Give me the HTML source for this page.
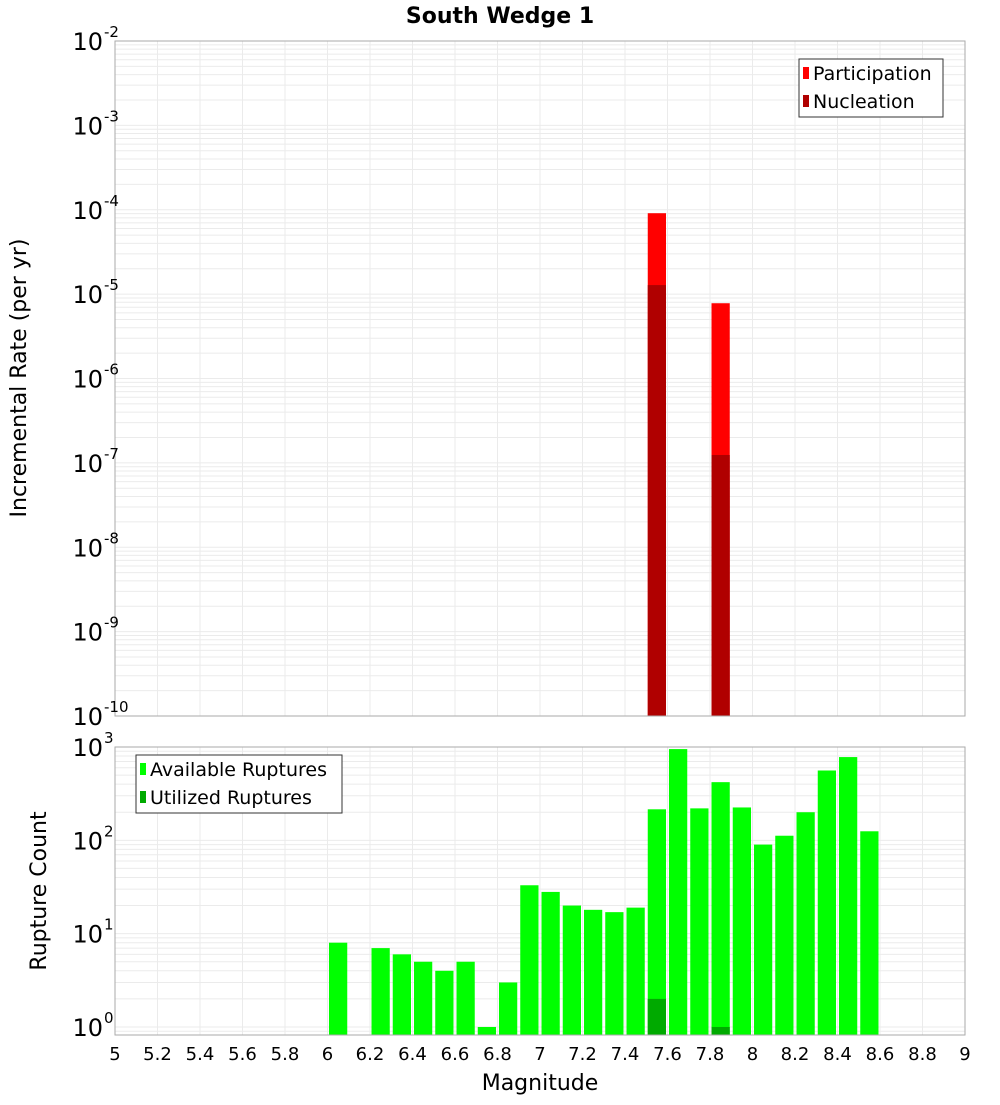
<!DOCTYPE html>
<html><head><meta charset="utf-8"><style>
body{margin:0;background:#fff;}
svg text{font-family:"DejaVu Sans","Liberation Sans",sans-serif;fill:#000;}
</style></head><body>
<svg id="c" width="1000" height="1100" xmlns="http://www.w3.org/2000/svg">
<text x="500" y="23" text-anchor="middle" font-size="22" font-weight="bold">South Wedge 1</text>
<text transform="translate(26,378) rotate(-90)" text-anchor="middle" font-size="22">Incremental Rate (per yr)</text>
<text transform="translate(46,891) rotate(-90)" text-anchor="middle" font-size="22">Rupture Count</text>
<text x="540" y="1090" text-anchor="middle" font-size="22">Magnitude</text>
<g id="top"></g>
<g id="bot"></g>
</svg>
<script>
const rateMags = [7.55, 7.85];
const participation = [9.1e-5, 7.8e-6];
const nucleation = [1.28e-5, 1.24e-7];
const countMags = [6.05,6.25,6.35,6.45,6.55,6.65,6.75,6.85,6.95,7.05,7.15,7.25,7.35,7.45,7.55,7.65,7.75,7.85,7.95,8.05,8.15,8.25,8.35,8.45,8.55];
const available = [8,7,6,5,4,5,1,3,33,28,20,18,17,19,215,950,220,420,225,90,112,200,560,780,125];
const utilizedMags = [7.55, 7.85];
const utilized = [2, 1];
const xTicks = [5,5.2,5.4,5.6,5.8,6,6.2,6.4,6.6,6.8,7,7.2,7.4,7.6,7.8,8,8.2,8.4,8.6,8.8,9];
const topExps = [-10,-9,-8,-7,-6,-5,-4,-3,-2];
const botExps = [0,1,2,3];

const NS='http://www.w3.org/2000/svg';
const L=115,R=965;
const xs=m=>L+(m-5)/4*(R-L);
function mk(p,tag,a){const e=document.createElementNS(NS,tag);for(const k in a)e.setAttribute(k,a[k]);p.appendChild(e);return e;}

function panel(g,top,bot,lmin,lmax,name){
  const ys=v=>bot-(Math.log10(v)-lmin)/(lmax-lmin)*(bot-top);
  // grid
  for(let d=Math.floor(lmin);d<Math.ceil(lmax);d++){
    for(let k=1;k<10;k++){const v=k*Math.pow(10,d);const lv=Math.log10(v);if(lv<lmin||lv>lmax)continue;
      const y=ys(v);const l=mk(g,'line',{x1:L,x2:R,y1:y,y2:y,stroke:'#ebebeb','stroke-width':1});
      }
  }
  xTicks.forEach(t=>{const x=xs(t);const l=mk(g,'line',{x1:x,x2:x,y1:top,y2:bot,stroke:'#ebebeb','stroke-width':1});
    });
  return ys;
}
function ylabels(g,exps,ys,name){
  exps.forEach(e=>{const y=ys(Math.pow(10,e));
    const t=mk(g,'text',{x:103,y:y+9,'text-anchor':'end','font-size':24});t.textContent='10';
    
    const s=mk(g,'text',{x:104,y:y-4,'font-size':15});s.textContent=String(e);
    });
}
function bar(g,m,v,ys,bot,color,name,w){
  const y=ys(v);const x=xs(m-0.05)+1.5;
  const r=mk(g,'rect',{x:x,y:y,width:xs(m+0.05)-xs(m-0.05)-3,height:bot-y,fill:color});
  
}
function frame(g,top,bot,name){const r=mk(g,'rect',{x:L,y:top,width:R-L,height:bot-top,fill:'none',stroke:'#aaa','stroke-width':1});
  }
function legend(g,x,y,w,items,name){
  const b=mk(g,'rect',{x:x,y:y,width:w,height:58,fill:'#fff',stroke:'#333','stroke-width':1});
  
  items.forEach((it,i)=>{const cy=y+14+i*28;
    const s=mk(g,'rect',{x:x+4,y:cy-6,width:6,height:12,fill:it[1]});
    
    const t=mk(g,'text',{x:x+14,y:cy+7,'font-size':19});t.textContent=it[0];
    });
}
// top
const gt=document.getElementById('top');
const ysT=panel(gt,41,716,-10,-2,'top');
rateMags.forEach((m,i)=>bar(gt,m,participation[i],ysT,716,'#ff0000','participation-bar'));
rateMags.forEach((m,i)=>bar(gt,m,nucleation[i],ysT,716,'#b00000','nucleation-bar'));
frame(gt,41,716,'top');
ylabels(gt,topExps,ysT,'top');
legend(gt,799,59,144,[['Participation','#ff0000'],['Nucleation','#b00000']],'top-legend');
// bottom
const gb=document.getElementById('bot');
const lmin=-0.086;
const ysB=panel(gb,747,1035,lmin,3,'bottom');
countMags.forEach((m,i)=>bar(gb,m,available[i],ysB,1035,'#00ff00','available-bar'));
utilizedMags.forEach((m,i)=>bar(gb,m,utilized[i],ysB,1035,'#00aa00','utilized-bar'));
frame(gb,747,1035,'bottom');
ylabels(gb,botExps,ysB,'bottom');
legend(gb,136,755,206,[['Available Ruptures','#00ff00'],['Utilized Ruptures','#00aa00']],'bottom-legend');
xTicks.forEach(t=>{const x=xs(t);const e=mk(gb,'text',{x:x,y:1060,'text-anchor':'middle','font-size':18});
  e.textContent=String(t);});
</script>
</body></html>
